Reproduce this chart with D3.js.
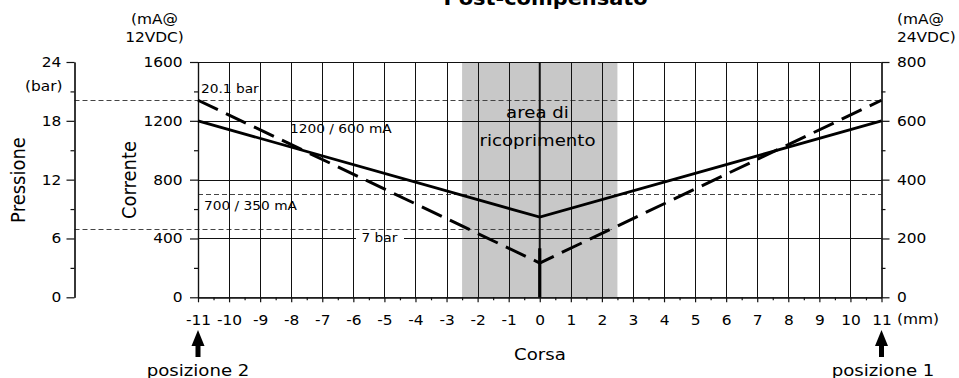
<!DOCTYPE html>
<html><head><meta charset="utf-8">
<script src="https://cdn.jsdelivr.net/npm/d3@7"></script>
<style>
body{margin:0;background:#fff}
svg text{font-family:"DejaVu Sans",Verdana,sans-serif;fill:#000}
</style>
</head><body>
<svg id="c" width="959" height="378"></svg>
<script>
// ---- data ----
const strokeTicks = [-11,-10,-9,-8,-7,-6,-5,-4,-3,-2,-1,0,1,2,3,4,5,6,7,8,9,10,11];
const strokeMinor = d3.range(-10.5, 11, 1);
const current12Ticks = [0,400,800,1200,1600];
const current12Minor = [200,600,1000,1400];
const current24Ticks = [0,200,400,600,800];
const current24Minor = [100,300,500,700];
const pressureTicks = [0,6,12,18,24];
const pressureMinor = [3,9,15,21];
const positions = [-11, 0, 11];
const current12 = [1200, 545, 1200];
const pressure = [20.1, 3.5, 20.1];
const refPressureHigh = 20.1;
const refPressureLow = 7;
const refCurrent12 = 700;
const overlapArea = [-2.5, 2.5];
const centerSpike = [5, 0];

const svg = d3.select("#c");
const SX = "scale(1.1,1)";
const crisp = v => Math.round(v) + 0.5;

const x = d3.scaleLinear([-11, 11], [198, 881.5]);
const yC = d3.scaleLinear([0, 1600], [297.3, 62]);
const yC24 = d3.scaleLinear([0, 800], [297.3, 62]);
const yP = d3.scaleLinear([0, 24], [297.3, 62]);
const pAxisX = 74.5;

function txt(xp, yp, s, size, anchor, opts = {}) {
  const t = svg.append("text")
    .attr("transform", `translate(${xp},${yp}) ${SX}` + (opts.rotate ? ` rotate(${opts.rotate})` : ""))
    .attr("text-anchor", anchor)
    .style("font-size", size + "px")
    .text(s);
  if (opts.bold) t.style("font-weight", "bold");
  return t;
}

// overlap area
svg.append("rect")
  .attr("x", x(overlapArea[0])).attr("y", yC(1600))
  .attr("width", x(overlapArea[1]) - x(overlapArea[0]))
  .attr("height", yC(0) - yC(1600))
  .attr("fill", "#c8c8c8");

// horizontal grid
svg.append("g").selectAll("line").data(current12Ticks.filter(d => d > 0)).join("line")
  .attr("x1", x(-11)).attr("x2", x(11))
  .attr("y1", d => crisp(yC(d))).attr("y2", d => crisp(yC(d)))
  .attr("stroke", "#111").attr("stroke-width", 1);

// reference dashed lines
const refStyle = sel => sel.attr("stroke", "#444").attr("stroke-width", 1).attr("stroke-dasharray", "5,3").attr("fill", "none");
svg.append("line").attr("x1", pAxisX).attr("x2", x(11))
  .attr("y1", crisp(yP(refPressureHigh))).attr("y2", crisp(yP(refPressureHigh))).call(refStyle);
// low pressure line ends where it meets the right branch of the pressure curve
const xLowEnd = positions[1] + (refPressureLow - pressure[1]) / (pressure[2] - pressure[1]) * (positions[2] - positions[1]);
svg.append("line").attr("x1", pAxisX).attr("x2", x(xLowEnd))
  .attr("y1", crisp(yP(refPressureLow))).attr("y2", crisp(yP(refPressureLow))).call(refStyle);
svg.append("line").attr("x1", x(-11)).attr("x2", x(11))
  .attr("y1", crisp(yC(refCurrent12))).attr("y2", crisp(yC(refCurrent12))).call(refStyle);

// "7 bar" label with white background on the 400 line
svg.append("rect").attr("x", 356).attr("y", yC(400) - 5).attr("width", 48).attr("height", 10).attr("fill", "#fff");
txt(361.5, 242, "7 bar", 12.5, "start");

// vertical grid
svg.append("g").selectAll("line").data(strokeTicks.filter(d => Math.abs(d) < 11)).join("line")
  .attr("x1", d => d === 0 ? x(d) : crisp(x(d))).attr("x2", d => d === 0 ? x(d) : crisp(x(d)))
  .attr("y1", yC(1600)).attr("y2", yC(0))
  .attr("stroke", "#111").attr("stroke-width", d => d === 0 ? 2 : 1);

// axes
function styleAxis(g, size) {
  g.selectAll("path.domain").attr("stroke", "#111").attr("stroke-width", 1.2);
  g.selectAll(".tick line").attr("stroke", "#111").attr("stroke-width", 1.2);
  g.selectAll("text").style("font-size", size + "px").attr("fill", "#000").attr("transform", SX);
  g.attr("font-family", null);
}
// left current axis
const gL = svg.append("g").attr("transform", `translate(${x(-11)},0)`)
  .call(d3.axisLeft(yC).tickValues(current12Ticks).tickSize(8).tickSizeOuter(0).tickPadding(6).tickFormat(d => String(d)));
styleAxis(gL, 14);
svg.append("g").attr("transform", `translate(${x(-11)},0)`)
  .call(d3.axisLeft(yC).tickValues(current12Minor).tickSize(4).tickSizeOuter(0).tickFormat(""))
  .call(g => styleAxis(g, 14));
// right axis
const gR = svg.append("g").attr("transform", `translate(${x(11)},0)`)
  .call(d3.axisRight(yC24).tickValues(current24Ticks).tickSize(8).tickSizeOuter(0).tickPadding(6).tickFormat(d => String(d)));
styleAxis(gR, 14);
svg.append("g").attr("transform", `translate(${x(11)},0)`)
  .call(d3.axisRight(yC24).tickValues(current24Minor).tickSize(4).tickSizeOuter(0).tickFormat(""))
  .call(g => styleAxis(g, 14));
// pressure axis
const gP = svg.append("g").attr("transform", `translate(${pAxisX},0)`)
  .call(d3.axisLeft(yP).tickValues(pressureTicks).tickSize(8).tickSizeOuter(0).tickPadding(4).tickFormat(d => String(d)));
styleAxis(gP, 14);
svg.append("g").attr("transform", `translate(${pAxisX},0)`)
  .call(d3.axisLeft(yP).tickValues(pressureMinor).tickSize(4).tickSizeOuter(0).tickFormat(""))
  .call(g => styleAxis(g, 14));
// bottom axis
const gB = svg.append("g").attr("transform", `translate(0,${yC(0)})`)
  .call(d3.axisBottom(x).tickValues(strokeTicks).tickSize(5).tickSizeOuter(0).tickPadding(13).tickFormat(d => String(d)));
styleAxis(gB, 14);
svg.append("g").attr("transform", `translate(0,${yC(0)})`)
  .call(d3.axisBottom(x).tickValues(strokeMinor).tickSize(3).tickSizeOuter(0).tickFormat(""))
  .call(g => styleAxis(g, 14));

// curves
const pts = positions.map((p, i) => ({p, c: current12[i], pr: pressure[i]}));
svg.append("path").datum(pts)
  .attr("d", d3.line().x(d => x(d.p)).y(d => yC(d.c)))
  .attr("fill", "none").attr("stroke", "#000").attr("stroke-width", 2.8);
svg.append("path").datum(pts)
  .attr("d", d3.line().x(d => x(d.p)).y(d => yP(d.pr)))
  .attr("fill", "none").attr("stroke", "#000").attr("stroke-width", 3)
  .attr("stroke-dasharray", "22,9");
svg.append("line")
  .attr("x1", x(0)).attr("x2", x(0))
  .attr("y1", yP(centerSpike[0])).attr("y2", yP(centerSpike[1]))
  .attr("stroke", "#000").attr("stroke-width", 3.2);

// arrows
function arrow(px) {
  const pts = [[0,330],[6.5,346],[2.5,346],[2.5,357],[-2.5,357],[-2.5,346],[-6.5,346]];
  svg.append("path")
    .attr("d", d3.line()(pts.map(([dx, yy]) => [px + dx, yy])) + "Z")
    .attr("fill", "#000");
}
arrow(x(-11));
arrow(x(11));

// texts
txt(545.5, 5, "Post-compensato", 19, "middle", {bold: true});
txt(154.5, 24, "(mA@", 14, "middle");
txt(154.5, 42, "12VDC)", 14, "middle");
txt(897, 24, "(mA@", 14, "start");
txt(897, 42, "24VDC)", 14, "start");
txt(25, 91, "(bar)", 14, "start");
txt(25, 180, "Pressione", 18, "middle", {rotate: -90});
txt(135.5, 180, "Corrente", 18, "middle", {rotate: -90});
txt(540, 360, "Corsa", 16.5, "middle");
txt(897, 324, "(mm)", 14, "start");
txt(x(-11), 376, "posizione 2", 16.5, "middle");
txt(x(11) + 1.5, 376, "posizione 1", 16.5, "middle");
txt(537.5, 118, "area di", 16.5, "middle");
txt(537.5, 146, "ricoprimento", 16.5, "middle");
txt(201, 93, "20.1 bar", 12.5, "start");
txt(290, 133, "1200 / 600 mA", 12.5, "start");
txt(204, 210, "700 / 350 mA", 12.5, "start");
</script>
</body></html>
